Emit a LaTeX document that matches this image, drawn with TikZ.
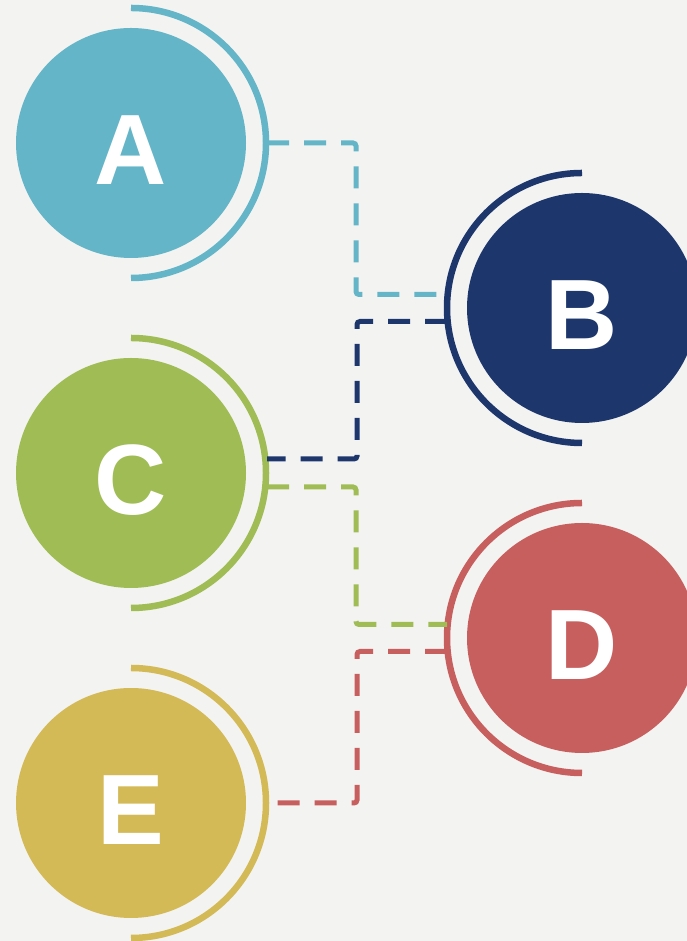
\documentclass[tikz,border=0pt]{standalone}
\usepackage{fontspec}
\setmainfont{Liberation Sans}
\usetikzlibrary{positioning}
\definecolor{bgcol}{HTML}{F3F3F1}
\definecolor{colA}{HTML}{64B5C8}
\definecolor{colB}{HTML}{1D376D}
\definecolor{colC}{HTML}{A0BC55}
\definecolor{colD}{HTML}{C65F5E}
\definecolor{colE}{HTML}{D4BA57}

\tikzset{
  ball/.style={circle, fill=#1, minimum size=230pt, inner sep=0pt, text=white,
    text height=83pt, text depth=0pt, font=\fontsize{100}{100}\selectfont\bfseries},
  ring/.style={draw=#1, line width=6.5pt},
  link/.style={draw=#1, line width=5pt, dash pattern=on 22pt off 15pt, rounded corners=3pt},
}

\begin{document}
\begin{tikzpicture}[x=1pt, y=1pt]
    % page and background
    \useasboundingbox (0,0) rectangle (687,941);
    \clip (0,0) rectangle (687,941);
    \fill[bgcol] (0,0) rectangle (687,941);

    % Draw circles
    \node[ball=colA] (A) at (131,798) {A};
    \node[ball=colB] (B) at (582,633) {B};
    \node[ball=colC] (C) at (131,468) {C};
    \node[ball=colD] (D) at (582,303) {D};
    \node[ball=colE] (E) at (131,138) {E};

    % Draw rings
    \draw[ring=colA] ([yshift=135pt]A.center) arc[start angle=90, end angle=-90, radius=135pt];
    \draw[ring=colB] ([yshift=135pt]B.center) arc[start angle=90, end angle=270, radius=135pt];
    \draw[ring=colC] ([yshift=135pt]C.center) arc[start angle=90, end angle=-90, radius=135pt];
    \draw[ring=colD] ([yshift=135pt]D.center) arc[start angle=90, end angle=270, radius=135pt];
    \draw[ring=colE] ([yshift=135pt]E.center) arc[start angle=90, end angle=-90, radius=135pt];

    % Connector ends on the rings
    \coordinate (A-out) at ([xshift=136pt]A.center);
    \coordinate (B-in)  at ([xshift=-135pt, yshift=13.5pt]B.center);
    \coordinate (B-out) at ([xshift=-135pt, yshift=-13.5pt]B.center);
    \coordinate (C-in)  at ([xshift=136pt, yshift=14pt]C.center);
    \coordinate (C-out) at ([xshift=136pt, yshift=-14pt]C.center);
    \coordinate (D-in)  at ([xshift=-135pt, yshift=13.5pt]D.center);
    \coordinate (D-out) at ([xshift=-135pt, yshift=-13.5pt]D.center);
    \coordinate (E-in)  at ([xshift=146pt]E.center);

    % Draw connectors
    \draw[link=colA] (A-out) -- ++(89,0) |- (B-in);
    \draw[link=colB] (B-out) -- ++(-90,0) |- (C-in);
    \draw[link=colC] (C-out) -- ++(89,0) |- (D-in);
    \draw[link=colD] (D-out) -- ++(-90,0) |- (E-in);
\end{tikzpicture}
\end{document}
